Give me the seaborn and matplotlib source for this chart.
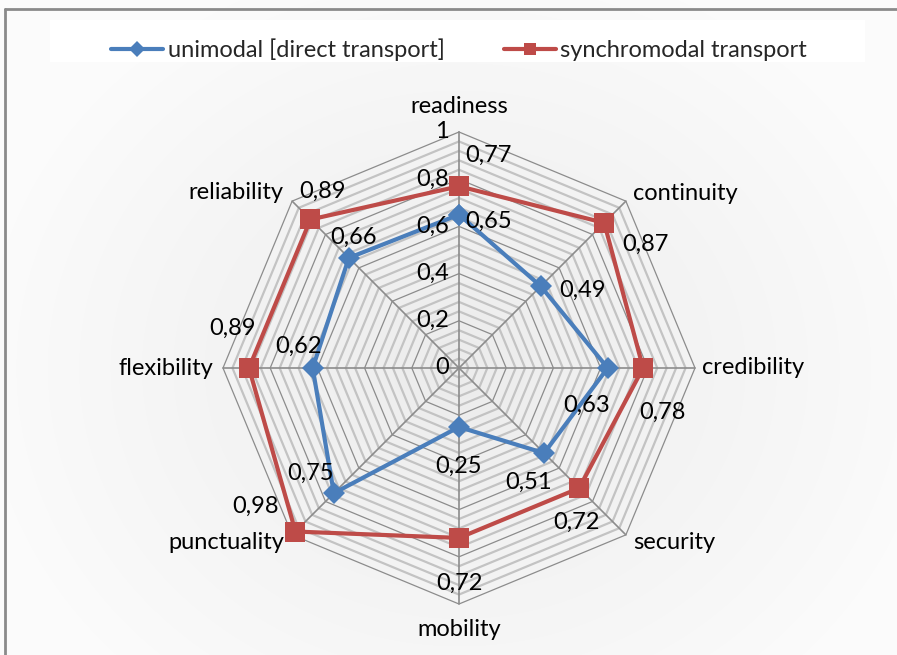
import numpy as np
import pandas as pd
import seaborn as sns
import matplotlib.pyplot as plt
from matplotlib.patches import Rectangle
from matplotlib.lines import Line2D

categories = ["readiness", "continuity", "credibility", "security",
              "mobility", "punctuality", "flexibility", "reliability"]
unimodal = [0.65, 0.49, 0.63, 0.51, 0.25, 0.75, 0.62, 0.66]
synchro = [0.77, 0.87, 0.78, 0.72, 0.72, 0.98, 0.89, 0.89]
series_names = ["unimodal [direct transport]", "synchromodal transport"]
radial_ticks = [0, 0.2, 0.4, 0.6, 0.8, 1]

# label offsets in pixels (dx, dy) relative to each point
uni_off = [(30, -7), (42, -4), (-21, -37), (-16, -29), (0, -39), (-23, 20), (-14, 22), (5, 21)]
syn_off = [(29, 31), (41, -22), (19, -44), (-3, -34), (0, -45), (-40, 25), (-16, 40), (12, 28)]

sns.set_theme(style="white")
plt.rcParams['font.family'] = ['Lato', 'DejaVu Sans']
FS = 17

W, H = 897, 655
fig = plt.figure(figsize=(W / 100, H / 100), dpi=100)
fig.patch.set_facecolor("white")

# background gradient
bg = fig.add_axes([0, 0, 1, 1], zorder=-10)
yy, xx = np.mgrid[0:H, 0:W]
d = np.sqrt(((xx - 459) / 480.0) ** 2 + ((yy - 368) / 420.0) ** 2)
g = np.clip(0.925 + 0.06 * d, 0.925, 0.985)
bg.imshow(np.dstack([g, g, g]), aspect="auto", extent=[0, W, H, 0])
bg.set_xlim(0, W)
bg.set_ylim(H, 0)
bg.axis("off")
bg.add_patch(Rectangle((50, 20), 815, 42, facecolor="white", edgecolor="none"))
bg.add_line(Line2D([5, 5], [9, H], color="#8a8a8a", lw=2))
bg.add_line(Line2D([5, W], [9, 9], color="#8a8a8a", lw=2))

cx, cy, R = 459, 368, 236
ax = fig.add_axes([(cx - R) / W, (H - cy - R) / H, 2 * R / W, 2 * R / H], projection="polar")
ax.set_theta_offset(np.pi / 2)
ax.set_theta_direction(-1)
ax.set_facecolor("none")
ax.grid(False)
ax.spines["polar"].set_visible(False)
ax.set_xticks([])
ax.set_yticks([])
ax.set_ylim(0, 1)

n = len(categories)
theta = np.linspace(0, 2 * np.pi, n, endpoint=False)
theta_c = np.append(theta, 2 * np.pi)

# octagonal grid
for k in range(1, 26):
    r = k * 0.04
    major = k % 5 == 0
    ax.plot(theta_c, [r] * (n + 1), color="#8c8c8c" if major else "#c3c3c3",
            lw=0.9 if major else 1.6, zorder=1)
for t in theta:
    ax.plot([t, t], [0, 1], color="#8c8c8c", lw=1.2, zorder=2)

rows = []
for name, vals in zip(series_names, [unimodal, synchro]):
    for t, v in zip(theta_c, vals + [vals[0]]):
        rows.append({"theta": t, "value": v, "series": name})
df = pd.DataFrame(rows)

sns.lineplot(data=df, x="theta", y="value", hue="series", style="series",
             sort=False, estimator=None, ax=ax,
             palette={series_names[0]: "#4a7ebb", series_names[1]: "#be4b48"},
             markers={series_names[0]: "D", series_names[1]: "s"},
             dashes=False, lw=3, markersize=11, markeredgewidth=0, zorder=5)
for line in ax.get_lines():
    line.set_clip_on(False)
    if line.get_marker() == "s":
        line.set_markersize(15)

for vals, offs in [(unimodal, uni_off), (synchro, syn_off)]:
    for t, v, o in zip(theta, vals, offs):
        ax.annotate(f"{v:.2f}".replace(".", ","), (t, v), xytext=o,
                    textcoords="offset pixels", ha="center", va="center",
                    fontsize=FS, color="black", zorder=6)

for r in radial_ticks:
    lab = f"{r:g}".replace(".", ",")
    ax.annotate(lab, (0, r), xytext=(-10, 0), textcoords="offset pixels",
                ha="right", va="center", fontsize=FS, color="black", zorder=6)

cat_pos = [(1.11, "center"), (1.045, "left"), (1.03, "left"), (1.045, "left"),
           (1.11, "center"), (1.045, "right"), (1.04, "right"), (1.05, "right")]
for t, c, (rr, ha) in zip(theta, categories, cat_pos):
    ax.text(t, rr, c, ha=ha, va="center", fontsize=FS, color="black")

sns.move_legend(ax, "center", bbox_to_anchor=(459 / W, 1 - 50 / H),
                bbox_transform=fig.transFigure, ncol=2, title=None,
                frameon=False, fontsize=FS, handlelength=2.2, columnspacing=2.5,
                handletextpad=0.2)
for h in ax.get_legend().legend_handles:
    h.set_markersize(8)

fig.savefig("out.png", dpi=100)
